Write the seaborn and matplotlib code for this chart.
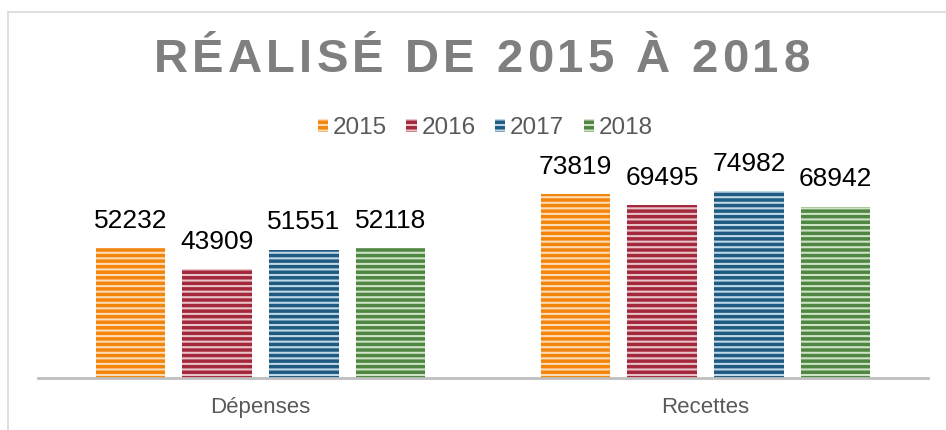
import matplotlib
matplotlib.use('Agg')
import matplotlib.pyplot as plt
import matplotlib.patches as mpatches
from matplotlib.lines import Line2D
from matplotlib.font_manager import FontProperties
import seaborn as sns
import pandas as pd

# Values
categories = ['Dépenses', 'Recettes']
years = ['2015', '2016', '2017', '2018']
depenses = [52232, 43909, 51551, 52118]
recettes = [73819, 69495, 74982, 68942]
title = 'RÉALISÉ DE 2015 À 2018'

colors = {'2015': '#F3850B', '2016': '#A4283B', '2017': '#1F5A80', '2018': '#4E8642'}
stripes = {'2015': '#FCDDB8', '2016': '#E8C3C8', '2017': '#BFD8E8', '2018': '#CFE3C6'}

rows = []
for cat, vals in zip(categories, [depenses, recettes]):
    for y, v in zip(years, vals):
        rows.append({'cat': cat, 'year': y, 'value': v})
df = pd.DataFrame(rows)

sns.set_theme(style='white')
plt.rcParams['font.family'] = ['Liberation Sans', 'DejaVu Sans']
plt.rcParams['hatch.linewidth'] = 1.5

W, H = 946, 430
fig = plt.figure(figsize=(W / 100, H / 100), dpi=100)
ax = fig.add_axes([0.0402, 0.1209, 0.9408, 0.4628])

sns.barplot(data=df, x='cat', y='value', hue='year', order=categories,
            hue_order=years, palette=colors, width=0.78, gap=0.2,
            saturation=1, legend=False, ax=ax)

# horizontal white-ish stripes on every bar
for y, cont in zip(years, ax.containers):
    for bar in cont:
        bar.set_hatch('---')
        bar.set_edgecolor(stripes[y])
        bar.set_linewidth(0)
    ax.bar_label(cont, labels=[f'{int(b.get_height())}' for b in cont],
                 padding=11, fontsize=19, color='black')

ax.set_xlim(-0.5, 1.5)
ax.set_ylim(0, 80000)
ax.set_xlabel('')
ax.set_ylabel('')
ax.set_yticks([])
for s in ['top', 'right', 'left']:
    ax.spines[s].set_visible(False)
ax.spines['bottom'].set_color('#BFBFBF')
ax.spines['bottom'].set_linewidth(2)
ax.tick_params(axis='x', length=0, pad=14, labelsize=16, labelcolor='#595959')

# title with wide letter spacing, placed character by character
prop = FontProperties(family=['Liberation Sans'], weight='bold', size=34)
renderer = fig.canvas.get_renderer()
def text_w(s):
    return renderer.get_text_width_height_descent(s, prop, ismath=False)[0]
spacing = 4.2
bar_w = text_w('|')
offsets = [text_w(title[:i] + '|') - bar_w + i * spacing for i in range(len(title))]
total = offsets[-1] + text_w(title[-1])
x0 = 481.5 - total / 2
for ch, off in zip(title, offsets):
    if ch != ' ':
        fig.text((x0 + off) / W, 1 - 60 / H, ch, ha='left', va='center',
                 fontproperties=prop, color='#7F7F7F')

handles = [mpatches.Patch(facecolor=colors[y], edgecolor=stripes[y], hatch='---',
                          linewidth=0, label=y) for y in years]
fig.legend(handles=handles, loc='center', bbox_to_anchor=(0.513, 0.702), ncol=4,
           frameon=False, fontsize=17.5, handlelength=0.42, handleheight=0.42,
           handletextpad=0.2, columnspacing=0.8, labelcolor='#595959')

# outer chart border (left and top edges visible in the crop)
fig.add_artist(Line2D([8 / W, 8 / W], [0, 1 - 12 / H], color='#D9D9D9', lw=1.2))
fig.add_artist(Line2D([8 / W, 1], [1 - 12 / H, 1 - 12 / H], color='#D9D9D9', lw=1.2))

fig.savefig('out.png', dpi=100)
